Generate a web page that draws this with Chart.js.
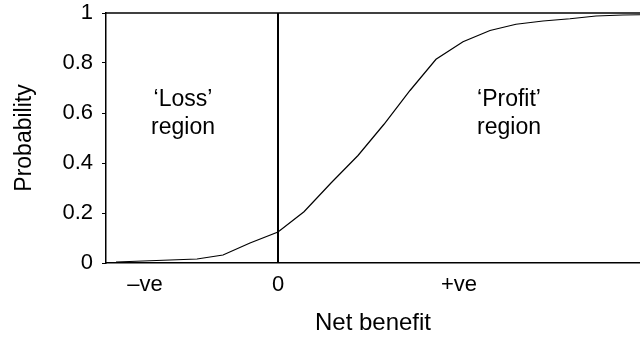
<!DOCTYPE html>
<html lang="en">
<head>
  <meta charset="UTF-8" />
  <title>Net benefit probability</title>
  <script src="https://cdn.jsdelivr.net/npm/chart.js"></script>
  <style>
    body {
      margin: 0;
      background: white;
    }

    .chart-box {
      width: 640px;
      height: 338px;
    }
  </style>
</head>
<body>
  <div class="chart-box">
    <canvas id="myChart"></canvas>
  </div>

  <script>
    // net benefit (arbitrary units, 0 = break-even) and cumulative probability
    const netBenefit = [-162, -135, -108, -81, -55, -28, 0, 26, 53, 80, 106, 132, 158, 185, 212, 238, 265, 292, 318, 345, 362];
    const probability = [0.004, 0.008, 0.012, 0.016, 0.032, 0.08, 0.124, 0.205, 0.32, 0.43, 0.555, 0.69, 0.815, 0.885, 0.93, 0.955, 0.968, 0.977, 0.988, 0.992, 0.993];

    // break-even marker
    const zeroLineX = [0, 0];
    const zeroLineY = [0, 1];

    const xTickValues = [-133, 0, 181];
    const xTickLabels = ["\u2013ve", "0", "+ve"];
    const yTicks = [0, 0.2, 0.4, 0.6, 0.8, 1];

    const regionText = [["\u2018Loss\u2019", "region"], ["\u2018Profit\u2019", "region"]];

    const font = "'Liberation Sans', Arial, sans-serif";

    const regionLabels = {
      id: "regionLabels",
      afterDatasetsDraw(chart) {
        const { ctx, scales: { x, y } } = chart;
        const spots = [[-95, 0.652], [231, 0.652]];
        ctx.save();
        ctx.fillStyle = "#000";
        ctx.font = "23px " + font;
        ctx.textAlign = "center";
        ctx.textBaseline = "middle";
        regionText.forEach((lines, i) => {
          const px = x.getPixelForValue(spots[i][0]);
          const py = y.getPixelForValue(spots[i][1]);
          lines.forEach((line, j) => ctx.fillText(line, px, py + j * 28));
        });
        // top frame line
        const area = chart.chartArea;
        ctx.strokeStyle = "#000";
        ctx.lineWidth = 1.5;
        ctx.beginPath();
        ctx.moveTo(area.left, area.top);
        ctx.lineTo(area.right, area.top);
        ctx.stroke();
        ctx.restore();
      }
    };

    const ctx = document.getElementById("myChart").getContext("2d");
    new Chart(ctx, {
      type: "line",
      data: {
        datasets: [
          {
            data: netBenefit.map((v, i) => ({ x: v, y: probability[i] })),
            borderColor: "#000",
            borderWidth: 1.2,
            pointRadius: 0,
            tension: 0
          },
          {
            data: zeroLineX.map((v, i) => ({ x: v, y: zeroLineY[i] })),
            borderColor: "#000",
            borderWidth: 2,
            pointRadius: 0
          }
        ]
      },
      options: {
        responsive: true,
        maintainAspectRatio: false,
        animation: false,
        layout: { padding: 0 },
        plugins: {
          legend: { display: false },
          tooltip: { enabled: false }
        },
        scales: {
          x: {
            type: "linear",
            min: -172,
            max: 362,
            afterBuildTicks: axis => {
              axis.ticks = xTickValues.map(v => ({ value: v }));
            },
            afterFit: axis => { axis.height = 75; },
            ticks: {
              color: "#000",
              font: { family: font, size: 22 },
              padding: 9,
              maxRotation: 0,
              callback: v => xTickLabels[xTickValues.indexOf(v)]
            },
            grid: { drawOnChartArea: false, drawTicks: false },
            border: { color: "#000", width: 1.5 },
            title: {
              display: true,
              text: "Net benefit",
              color: "#000",
              font: { family: font, size: 24 },
              padding: { top: 0, bottom: 0 }
            }
          },
          y: {
            min: 0,
            max: 1,
            afterBuildTicks: axis => {
              axis.ticks = yTicks.map(v => ({ value: v }));
            },
            afterFit: axis => {
              axis.width = 106;
              axis.paddingTop = 13;
            },
            ticks: {
              color: "#000",
              font: { family: font, size: 22 },
              padding: 9,
              callback: v => String(v)
            },
            grid: { drawOnChartArea: false, tickLength: 4, color: "#000" },
            border: { color: "#000", width: 1.5 },
            title: {
              display: true,
              text: "Probability",
              color: "#000",
              font: { family: font, size: 23 },
              padding: { top: 11, bottom: 0 }
            }
          }
        }
      },
      plugins: [regionLabels]
    });
  </script>
</body>
</html>
